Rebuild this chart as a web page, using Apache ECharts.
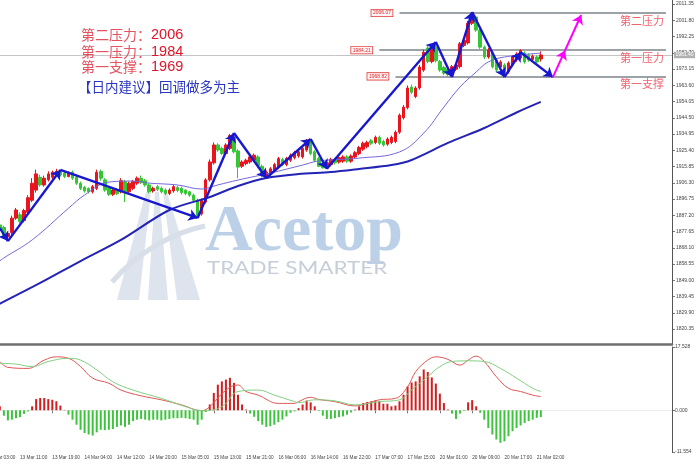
<!DOCTYPE html>
<html><head><meta charset="utf-8">
<script src="https://cdn.jsdelivr.net/npm/echarts@6/dist/echarts.min.js"></script>
<style>html,body{margin:0;padding:0;background:#fff}#c{width:696px;height:464px}</style>
</head><body><div id="c"></div>
<script>
// ---------------- data ----------------
const FIRST_BAR = 3;      // category index of first candle (13 Mar 06:00)
const LAST_BAR = 137;     // category index of last candle (21 Mar 03:00)
const N_CATS = 170;       // categories incl. empty future space

const priceTicks = [2011.35,2001.80,1992.25,1982.70,1973.15,1963.60,1954.05,1944.50,1934.95,1925.40,
  1915.85,1906.30,1896.75,1887.20,1877.65,1868.10,1858.55,1849.00,1839.45,1829.90,1820.35];
const macdTicks = [17.528, 0, -11.554];

// [open, close, low, high]
const ohlc = [
[1881.5,1878.5,1877.5,1882.5],[1880.0,1874.5,1873.5,1881.0],[1874.5,1876.5,1872.0,1877.5],[1877.0,1885.5,1875.5,1887.0],
[1885.5,1890.3,1884.5,1891.5],[1887.5,1883.5,1882.5,1889.0],[1884.0,1890.0,1883.0,1891.0],[1889.0,1897.5,1888.0,1899.0],
[1896.0,1906.0,1895.0,1909.0],[1902.0,1911.5,1900.5,1914.0],[1909.5,1905.0,1904.0,1911.0],[1905.0,1909.0,1904.0,1910.5],
[1908.0,1911.5,1907.0,1913.0],[1909.5,1912.5,1908.5,1913.5],[1911.0,1913.0,1910.0,1914.5],[1913.0,1911.0,1910.0,1914.0],
[1912.0,1910.0,1909.0,1913.0],[1910.0,1912.0,1909.5,1913.0],[1912.5,1909.0,1908.0,1913.5],[1909.5,1906.0,1905.0,1910.5],
[1906.0,1903.0,1902.0,1907.0],[1903.5,1901.5,1900.5,1904.5],[1903.0,1901.0,1900.0,1903.5],[1901.0,1904.0,1900.0,1905.0],
[1903.0,1912.5,1902.0,1914.0],[1913.0,1909.0,1907.5,1914.0],[1908.0,1902.0,1901.0,1909.0],[1903.0,1899.5,1898.5,1904.0],
[1899.5,1902.0,1898.5,1903.0],[1902.0,1900.0,1899.0,1903.0],[1901.0,1907.5,1900.0,1909.0],[1907.0,1901.0,1895.0,1908.0],
[1901.0,1906.0,1900.0,1907.0],[1903.0,1907.0,1902.0,1908.0],[1906.0,1909.0,1905.0,1910.0],[1909.0,1906.5,1905.5,1910.5],
[1907.5,1905.0,1904.0,1908.5],[1905.0,1901.0,1900.0,1906.0],[1901.5,1903.0,1900.5,1904.0],[1904.0,1902.5,1901.5,1905.0],
[1903.0,1901.0,1900.0,1904.0],[1902.0,1900.0,1899.0,1903.0],[1900.0,1902.0,1899.0,1903.0],[1901.5,1904.0,1900.5,1905.0],
[1903.5,1901.8,1900.8,1904.5],[1903.0,1900.5,1899.5,1904.0],[1902.0,1900.0,1899.0,1902.5],[1901.0,1899.0,1898.0,1901.5],
[1899.0,1896.0,1895.0,1900.0],[1896.0,1887.0,1885.6,1897.0],[1888.0,1896.0,1887.0,1897.0],[1895.0,1908.0,1894.0,1909.0],
[1908.0,1918.5,1907.0,1920.0],[1918.0,1928.5,1917.0,1930.0],[1928.5,1925.5,1924.5,1929.5],[1926.5,1923.5,1922.5,1927.5],
[1923.5,1928.5,1922.5,1929.5],[1926.5,1934.0,1925.5,1935.0],[1933.0,1924.5,1923.5,1935.5],[1925.0,1915.5,1909.0,1926.0],
[1916.0,1918.5,1915.0,1919.5],[1917.5,1919.5,1916.5,1920.5],[1918.5,1921.5,1917.5,1922.5],[1919.5,1922.5,1918.5,1923.5],
[1921.5,1916.5,1915.5,1922.5],[1916.0,1910.5,1909.5,1917.0],[1910.0,1912.5,1909.1,1913.5],[1911.5,1914.5,1910.5,1915.5],
[1913.5,1917.0,1912.5,1918.0],[1915.5,1920.5,1914.5,1921.5],[1920.0,1917.0,1916.0,1921.0],[1917.0,1920.5,1916.0,1921.5],
[1919.5,1922.5,1918.5,1923.5],[1921.0,1924.0,1920.0,1925.0],[1922.0,1924.5,1921.0,1925.5],[1921.5,1926.5,1920.5,1927.5],
[1925.5,1931.0,1924.5,1932.0],[1931.0,1923.5,1922.5,1932.0],[1924.5,1919.5,1918.5,1925.5],[1920.5,1916.0,1915.5,1921.5],
[1917.0,1915.0,1914.8,1918.0],[1915.0,1918.0,1914.5,1919.0],[1917.0,1920.0,1916.0,1921.0],[1920.0,1918.0,1917.0,1921.0],
[1918.5,1921.0,1917.5,1922.0],[1919.0,1921.5,1918.0,1922.5],[1921.5,1919.0,1918.0,1922.5],[1919.0,1922.0,1918.0,1923.0],
[1921.5,1924.0,1920.5,1925.0],[1923.5,1927.0,1922.5,1928.0],[1926.0,1929.5,1925.0,1930.5],[1927.5,1930.0,1926.5,1931.0],
[1931.0,1929.5,1928.5,1932.0],[1930.0,1933.0,1929.0,1934.0],[1933.0,1929.5,1928.5,1934.0],[1930.5,1928.5,1927.5,1931.5],
[1929.0,1932.0,1928.0,1933.0],[1930.0,1933.0,1929.0,1934.0],[1930.5,1936.0,1929.5,1937.0],[1936.0,1946.0,1935.0,1947.0],
[1944.5,1950.7,1943.5,1952.0],[1950.5,1962.0,1949.5,1963.5],[1962.5,1959.5,1958.5,1964.0],[1957.0,1962.0,1956.0,1963.0],
[1962.0,1974.3,1961.0,1975.5],[1972.5,1983.0,1971.5,1984.5],[1985.5,1977.5,1976.5,1987.0],[1977.5,1986.0,1976.5,1987.5],
[1986.0,1978.0,1977.0,1989.0],[1977.5,1972.5,1971.5,1978.5],[1974.0,1970.7,1969.5,1975.0],[1973.0,1970.0,1969.0,1974.0],
[1970.0,1974.5,1968.4,1975.5],[1973.0,1975.5,1972.0,1976.5],[1974.5,1988.0,1973.5,1989.0],[1987.0,1990.0,1986.0,1991.0],
[1988.5,2000.0,1987.5,2001.5],[2000.0,2005.5,1999.0,2006.6],[2003.7,1996.0,1995.0,2004.5],[1996.0,1986.0,1985.0,1997.0],
[1986.0,1980.2,1979.0,1987.0],[1980.2,1984.3,1979.2,1985.5],[1982.5,1974.5,1973.5,1983.5],[1978.4,1972.6,1971.5,1979.5],
[1974.3,1977.3,1973.3,1978.3],[1975.5,1969.5,1968.4,1976.5],[1971.4,1976.7,1970.4,1977.7],[1975.5,1980.2,1974.5,1981.2],
[1978.4,1982.0,1977.4,1983.0],[1979.6,1984.0,1978.6,1984.8],[1982.5,1977.3,1976.3,1983.5],[1981.3,1978.4,1977.4,1982.3],
[1978.8,1980.7,1977.8,1981.7],[1980.2,1977.3,1976.3,1981.2],[1979.0,1981.4,1977.5,1983.5]
];

const macdHist = [
1.1,-1.5,-2.8,-2.6,-2.2,-1.9,-1.0,-0.3,1.1,3.1,
3.4,3.4,3.1,2.9,2.5,1.3,0.1,-1.2,-2.6,-4.0,
-5.4,-6.3,-6.7,-7.0,-6.1,-5.4,-5.5,-5.4,-5.2,-4.6,
-4.2,-4.6,-4.0,-3.0,-2.6,-2.4,-2.6,-2.8,-2.6,-2.6,
-2.8,-2.6,-2.4,-2.2,-2.2,-2.1,-2.2,-2.4,-2.6,-4.0,
-2.6,-0.5,1.6,4.8,7.1,8.0,8.5,9.0,7.6,4.3,
1.6,0.2,-0.9,-1.8,-3.0,-4.0,-4.6,-4.4,-4.0,-3.3,
-2.6,-1.7,-0.7,-0.3,0.6,1.6,2.7,2.2,1.1,-0.2,
-1.5,-2.4,-2.4,-2.2,-1.9,-1.7,-1.2,-0.6,0.2,1.1,
2.0,2.3,2.5,2.7,2.5,1.8,1.8,1.1,1.3,2.5,
4.3,6.6,7.7,8.0,9.4,11.3,10.6,9.1,7.4,4.6,
2.0,0.2,-0.9,-2.4,-0.9,-0.2,2.2,2.8,1.1,-0.7,
-2.6,-4.9,-6.7,-8.1,-9.0,-8.6,-7.2,-5.8,-4.9,-4.2,
-3.5,-3.0,-2.6,-2.1,-1.9
];

// MACD lines, read as [category index, value]
const macdRed = [[3,13.5],[5,11.9],[10,11.6],[14,13.9],[17,14.8],[20,14.4],[23,12.1],[26,8.9],[30,7.5],[33,5.6],
  [38,4.0],[43,2.9],[48,1.5],[53,-0.1],[55,1.0],[59,5.6],[62,7.0],[64,5.2],[67,4.2],[72,1.9],[76,1.9],[77,2.4],
  [80,3.6],[82,3.0],[86,2.4],[91,1.2],[94,1.9],[97,2.9],[101,3.3],[104,6.5],[106,10.7],[109,13.9],[111,14.8],
  [114,14.1],[117,12.5],[119,13.9],[121,15.0],[123,13.5],[126,9.3],[129,6.1],[132,5.2],[135,4.2],[137,3.8]];
const macdGreen = [[3,13.0],[7,12.8],[11,12.1],[15,13.5],[20,14.4],[23,13.9],[27,11.2],[31,7.9],[36,5.6],[43,3.3],
  [49,1.0],[53,-0.1],[58,1.0],[62,5.2],[67,5.6],[71,4.2],[76,2.4],[77,2.1],[81,2.9],[86,2.6],[91,1.5],[97,2.4],
  [102,2.9],[105,5.6],[109,9.3],[112,12.1],[115,13.5],[119,13.7],[123,13.5],[127,11.6],[131,8.9],[135,6.1],[137,5.2]];

// moving averages, read as [category index, price]
const maFast = [[2,1858.6],[4,1862.1],[11,1872.7],[20,1891.3],[24,1899.1],[30,1906.7],[36,1907.3],[40,1906.1],
  [47,1905.0],[53,1902.6],[57,1905.0],[62,1907.9],[70,1912.0],[78,1916.7],[82,1919.1],[92,1920.8],[102,1924.4],
  [108,1935.5],[113,1950.8],[117,1962.6],[121,1971.4],[124,1977.3],[128,1980.2],[137,1982.5]];
const maSlow = [[2,1834.0],[13,1847.4],[23,1860.3],[33,1872.7],[45,1890.3],[55,1897.9],[62,1904.4],[69,1909.1],
  [77,1911.4],[85,1912.6],[92,1914.4],[100,1916.7],[105,1919.7],[114,1929.7],[123,1938.5],[131,1947.6],[137,1953.8]];

// zigzag wave and forecast, [category index, price]
const zigzag = [[3,1879.7],[5,1872.0],[18,1913.8],[52,1885.6],[61,1935.5],[69,1909.1],[80,1932.0],[84,1914.5],
  [111,1989.0],[115,1968.4],[120,2006.6],[128,1968.4],[132,1983.0],[140,1968.4]];
const forecast = [[140,1968.4],[143,1984.0],[147,2004.9]];

const levelValues = [2006.07, 1984.21, 1968.82];
const levelTags = ['2006.07','1984.21','1968.82'];
const levelNames = ['第二压力','第一压力','第一支撑'];
const levelStart = [102, 97, 101];
const levelEnd = 168;
const lastPrice = 1981.40;

const noteRows = [['第二压力：','2006'],['第一压力：','1984'],['第一支撑：','1969']];
const adviceText = '【日内建议】回调做多为主';

// ---------------- categories (hourly bars, market closed at 23:00 and weekends) ----------------
function buildCategories(count){
  const cats=[]; let t=Date.UTC(2023,2,13,3);
  while(cats.length<count){
    const d=new Date(t), h=d.getUTCHours(), wd=d.getUTCDay();
    const closed = h===23 || wd===6 || wd===0 || (wd===1 && h===0);
    if(!closed) cats.push(d.getUTCDate()+' Mar '+String(h).padStart(2,'0')+':00');
    t+=3600000;
  }
  return cats;
}
const categories = buildCategories(N_CATS);
const padC = []; const padH = [];
for(let k=0;k<FIRST_BAR;k++){ padC.push(['-','-','-','-']); padH.push('-'); }
const candleData = padC.concat(ohlc);
const histData = padH.concat(macdHist);

const RED='#e8141e', GREEN='#34c634';
const showIdx = (i)=> i%8===0 && i<=LAST_BAR;

// mark lines
const levelLinesMain = levelValues.map((v,k)=>[
  {coord:[levelStart[k],v], label:{show:true, position:'start', formatter:levelTags[k], fontSize:5,
     fontFamily:'Liberation Sans', color:'#e02a2a', backgroundColor:'#fff3f3', borderColor:'#e03a3a', borderWidth:0.8,
     padding:[1,1.5,0.5,1.5], distance:7}},
  {coord:[levelEnd,v]}
]);
const levelLinesName = levelValues.map((v,k)=>[
  {coord:[levelStart[k],v], lineStyle:{color:'rgba(255,255,255,0)', width:0.1},
   label:{show:true, position:'insideEndBottom', formatter:levelNames[k],
     fontSize:11, fontFamily:'Noto Sans CJK SC', color:'#f06270', distance:2}},
  {coord:[levelEnd,v]}
]);
const priceLine = {yAxis:lastPrice, lineStyle:{color:'#c4c4c4', width:1, type:'solid'},
  label:{show:true, position:'end', formatter:lastPrice.toFixed(2), fontSize:5, fontFamily:'Liberation Sans',
  color:'#ffffff', backgroundColor:'#b0b0b0', padding:[1,1.5,0.5,1.5], distance:2}};

const zigLines = zigzag.slice(1).map((p,k)=>[{coord:zigzag[k]},{coord:p}]);
const fcLines = forecast.slice(1).map((p,k)=>[{coord:forecast[k]},{coord:p}]);

const chart = echarts.init(document.getElementById('c'), null, {renderer:'canvas', width:696, height:464});

const option = {
  animation:false,
  backgroundColor:'#ffffff',
  grid:[
    {left:-14.3, right:24, top:0, bottom:120, containLabel:false, outerBoundsMode:'none'},
    {left:-14.3, right:24, top:347, bottom:12, containLabel:false, outerBoundsMode:'none'}
  ],
  xAxis:[
    {type:'category', gridIndex:0, data:categories, boundaryGap:true,
     axisLine:{show:true, lineStyle:{color:'#707070', width:2.5}}, axisTick:{show:false}, axisLabel:{show:false}, splitLine:{show:false}},
    {type:'category', gridIndex:1, data:categories, boundaryGap:true,
     axisLine:{show:false},
     axisTick:{show:true, alignWithLabel:true, interval:(i)=>showIdx(i), length:3, lineStyle:{color:'#555', width:0.8}},
     axisLabel:{show:true, interval:(i)=>showIdx(i), align:'left', margin:3, fontSize:4.7, fontFamily:'Liberation Sans', color:'#444'},
     splitLine:{show:false}}
  ],
  yAxis:[
    {type:'value', gridIndex:0, position:'right', min:1811.54, max:2013.70, scale:true,
     axisLine:{show:true, lineStyle:{color:'#555', width:1}},
     axisTick:{show:true, length:3, customValues:priceTicks, lineStyle:{color:'#555', width:0.8}},
     axisLabel:{show:true, customValues:priceTicks, formatter:(v)=>Number(v).toFixed(2), margin:4, fontSize:5,
       fontFamily:'Liberation Sans', color:'#444'},
     splitLine:{show:false}},
    {type:'value', gridIndex:1, position:'right', min:-11.554, max:17.528,
     axisLine:{show:true, lineStyle:{color:'#555', width:1}},
     axisTick:{show:true, length:3, customValues:macdTicks, lineStyle:{color:'#555', width:0.8}},
     axisLabel:{show:true, customValues:macdTicks, formatter:(v)=>Number(v).toFixed(3), margin:3, fontSize:5,
       fontFamily:'Liberation Sans', color:'#444'},
     splitLine:{show:false}}
  ],
  series:[
    {type:'candlestick', xAxisIndex:0, yAxisIndex:0, data:candleData, barWidth:3, z:3,
     itemStyle:{color:RED, color0:GREEN, borderColor:RED, borderColor0:GREEN, borderWidth:1},
     markLine:{silent:true, symbol:'none', animation:false, z:2,
       lineStyle:{color:'#7d8388', width:1.5, type:'solid'}, label:{show:false},
       data:[priceLine].concat(levelLinesMain)}},
    {type:'line', xAxisIndex:0, yAxisIndex:0, data:maFast, smooth:0.4, symbol:'none', z:4,
     lineStyle:{color:'#7467dc', width:1},
     markLine:{silent:true, symbol:['none','arrow'], symbolSize:9, animation:false, z:6,
       lineStyle:{color:'#1717d0', width:2.4, type:'solid'}, label:{show:false}, data:zigLines}},
    {type:'line', xAxisIndex:0, yAxisIndex:0, data:maSlow, smooth:0.3, symbol:'none', z:4,
     lineStyle:{color:'#2323b6', width:2},
     markLine:{silent:true, symbol:['none','arrow'], symbolSize:9, animation:false, z:6,
       lineStyle:{color:'#ff00ff', width:2, type:'solid'}, label:{show:false}, data:fcLines}},
    {type:'line', xAxisIndex:0, yAxisIndex:0, data:[], symbol:'none', z:5,
     markLine:{silent:true, symbol:'none', animation:false, z:5, data:levelLinesName}},
    {type:'bar', xAxisIndex:1, yAxisIndex:1, data:histData, barWidth:2, z:3,
     itemStyle:{color:(p)=> (p.value>=0 ? '#d41e1e' : '#3cc43c')},
     markLine:{silent:true, symbol:'none', animation:false, z:1, label:{show:false},
       lineStyle:{color:'#d8d8d8', width:1, type:'dotted'}, data:[{yAxis:0}]}},
    {type:'line', xAxisIndex:1, yAxisIndex:1, data:macdRed, smooth:0.4, symbol:'none', z:4,
     lineStyle:{color:'#e05656', width:1}},
    {type:'line', xAxisIndex:1, yAxisIndex:1, data:macdGreen, smooth:0.4, symbol:'none', z:4,
     lineStyle:{color:'#80d080', width:1}}
  ],
  graphic:[
    // watermark logo
    {type:'polygon', z:0, silent:true, shape:{points:[[146,192],[151,192],[139,300],[117,300]]}, style:{fill:'#dde4ee'}},
    {type:'polygon', z:0, silent:true, shape:{points:[[155,192],[159,192],[168,300],[148,300]]}, style:{fill:'#dde4ee'}},
    {type:'polygon', z:0, silent:true, shape:{points:[[163,192],[167,192],[200,300],[177,300]]}, style:{fill:'#dde4ee'}},
    {type:'bezierCurve', z:0, silent:true, shape:{x1:112,y1:282,x2:205,y2:226,cpx1:140,cpy1:250,cpx2:175,cpy2:232},
      style:{stroke:'#d8dfe9', lineWidth:5, fill:null}},
    {type:'text', z:0, silent:true, x:205, y:233,
      style:{text:'Acetop', fill:'#bcd0e8', font:'bold 66px "Liberation Serif"', verticalAlign:'middle'}},
    {type:'text', z:0, silent:true, x:207, y:269, scaleX:1.32,
      style:{text:'TRADE SMARTER', fill:'#c6ced9', font:'17px Lato', verticalAlign:'middle'}},
    // notes
    ...noteRows.map((r,k)=>({type:'text', z:50, silent:true, x:81, y:[35,51.7,66.7][k],
      style:{text:'{a|'+r[0]+'}{b|'+r[1]+'}', verticalAlign:'middle',
        rich:{a:{fontSize:14, fontFamily:'Noto Sans CJK SC', fill:'#e6525f'},
              b:{fontSize:14.5, fontFamily:'Liberation Sans', fill:'#e2142a'}}}})),
    {type:'text', z:50, silent:true, x:78, y:86.7,
      style:{text:adviceText, fill:'#2a36c2', font:'13.5px "Noto Sans CJK SC"', verticalAlign:'middle'}}
  ]
};
chart.setOption(option);
</script>
</body></html>
